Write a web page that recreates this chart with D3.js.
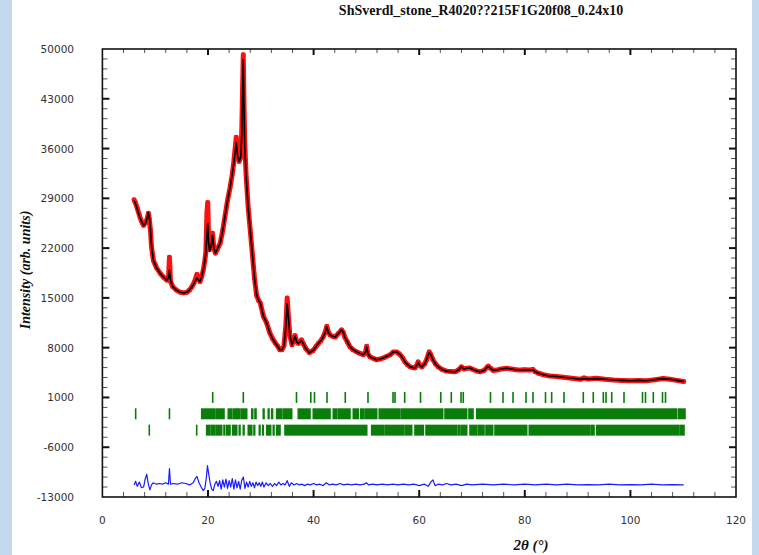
<!DOCTYPE html>
<html><head><meta charset="utf-8">
<script src="https://cdn.jsdelivr.net/npm/d3@7/dist/d3.min.js"></script>
<style>html,body{margin:0;padding:0;background:#fff;}svg{display:block;}</style>
</head><body>
<script>
const chartTitle = "ShSverdl_stone_R4020??215F1G20f08_0.24x10";
const xTicks = [0, 20, 40, 60, 80, 100, 120];
const yTicks = [50000, 43000, 36000, 29000, 22000, 15000, 8000, 1000, -6000, -13000];

// 2theta grid with observed and calculated intensities
const twoTheta = [6.0,6.3,6.6,7.1,7.5,7.8,8.2,8.5,8.7,8.9,9.1,9.3,9.65,10.2,10.9,11.6,12.2,12.5,12.7,12.9,13.3,14.0,14.7,15.4,16.0,16.5,16.9,17.4,17.9,18.2,18.5,18.8,19.1,19.4,19.6,19.8,19.95,20.1,20.3,20.6,20.85,21.1,21.4,21.8,22.3,22.8,23.2,23.7,24.2,24.6,24.9,25.2,25.35,25.6,25.9,26.2,26.4,26.55,26.68,26.8,26.95,27.2,27.6,28.0,28.4,28.8,29.2,29.6,29.9,30.5,31.1,31.7,32.2,32.7,33.2,33.6,34.0,34.4,34.75,35.0,35.25,35.5,35.9,36.5,36.8,37.1,37.7,38.1,38.5,39.2,39.9,40.5,40.9,41.4,41.8,42.2,42.5,42.8,43.1,43.6,44.1,44.7,45.3,45.6,45.9,46.4,46.9,47.5,48.2,48.8,49.4,49.8,50.05,50.3,50.7,51.3,51.9,52.6,53.2,53.9,54.5,55.1,55.7,56.1,56.4,56.9,57.3,57.8,58.3,58.8,59.2,59.6,59.8,60.1,60.5,61.0,61.4,61.7,61.9,62.2,62.6,63.1,63.6,64.4,65.2,66.0,66.8,67.5,68.0,68.5,69.0,69.6,70.3,71.0,71.5,72.3,72.8,73.1,73.5,74.0,74.7,75.5,76.6,77.5,78.3,79.1,80.0,81.0,81.5,82.0,82.6,83.5,84.8,86.0,87.3,88.9,90.5,91.2,92.0,93.6,95.2,96.8,98.3,99.9,101.5,103.1,104.7,106.2,107.5,108.8,110.1];
const yObs = [28800,28300,27600,26400,25600,25200,25600,26200,26900,26000,24500,22200,20300,19300,18500,17900,17500,17600,20700,17300,16600,16100,15800,15700,15800,16100,16500,17200,18300,17600,17300,18000,18900,20200,21500,27000,28400,24000,21800,22500,24100,22000,21300,21900,22700,24500,26400,28700,30600,32400,34200,36500,37600,35000,34200,34800,38500,44500,49200,43000,37000,32500,27800,24500,21200,17800,15400,14600,14300,12400,11500,10100,9300,8700,8200,7700,7700,8300,11200,15000,12200,9800,8400,9700,8800,8600,9100,8500,7900,7300,7600,8200,8600,9000,9500,10200,11000,10200,9800,9600,9500,10000,10500,10200,9500,8800,8100,7700,7400,7200,7000,7300,8200,7100,6700,6500,6300,6400,6550,6800,7000,7400,7400,7200,7000,6500,6000,5600,5300,5200,5150,5600,6000,5500,5300,5700,6300,7000,7400,7000,6300,5700,5300,4900,4700,4650,4600,4900,5300,5000,5100,5150,4900,4700,4600,4800,5200,5400,5100,4800,4850,5000,5100,5000,4900,4850,4900,4850,4950,4600,4400,4200,4000,3950,3850,3700,3550,3750,3600,3700,3550,3450,3400,3350,3400,3350,3500,3650,3550,3400,3250];
const yCalc = [28700,28200,27500,26300,25600,25200,25500,26300,27000,26200,24600,22300,20300,19300,18500,17900,17500,17800,18900,17500,16600,16100,15800,15700,15800,16100,16500,17100,17800,17500,17300,18000,18900,20200,21400,24000,25500,22800,21600,22300,23800,22000,21300,21900,22700,24500,26400,28700,30600,32400,34000,35800,36800,35000,34200,34800,38000,43500,48500,42500,36500,32300,27800,24500,21200,17800,15400,14600,14300,12400,11500,10100,9300,8700,8200,7700,7700,8300,11000,14200,12000,9800,8400,9600,8800,8600,9000,8500,7900,7300,7600,8200,8600,9000,9500,10100,10900,10100,9800,9600,9500,10000,10500,10200,9500,8800,8100,7700,7400,7200,7000,7300,8100,7100,6700,6500,6300,6400,6550,6800,7000,7400,7400,7200,7000,6500,6000,5600,5300,5200,5150,5600,5900,5500,5300,5700,6300,7000,7300,7000,6300,5700,5300,4900,4700,4650,4600,4900,5300,5000,5100,5150,4900,4700,4600,4800,5200,5350,5100,4800,4850,5000,5100,5000,4900,4850,4900,4850,4900,4600,4400,4200,4000,3950,3850,3700,3550,3650,3600,3650,3550,3450,3400,3350,3400,3350,3500,3650,3550,3400,3250];

// difference curve (Yobs - Ycalc, shifted)
const diffTheta = [6.0,6.3,6.6,7.0,7.4,7.8,8.1,8.4,8.7,9.0,9.3,9.6,10.2,10.8,11.4,12.0,12.5,12.7,12.9,13.5,14.2,15.0,15.8,16.5,17.2,17.6,17.9,18.3,18.7,19.1,19.4,19.7,19.9,20.1,20.4,20.7,21.0,21.3,21.6,21.9,22.2,22.5,22.8,23.1,23.4,23.7,24.0,24.3,24.6,24.9,25.2,25.5,25.8,26.1,26.4,26.7,27.0,27.3,27.6,27.9,28.2,28.5,28.8,29.1,29.4,29.7,30.0,30.3,30.6,31.0,31.4,31.8,32.2,32.6,33.0,33.4,33.8,34.2,34.6,35.0,35.4,35.8,36.3,36.8,37.3,37.8,38.3,38.8,39.4,40.0,40.6,41.2,41.8,42.4,43.0,43.6,44.3,45.0,45.7,46.4,47.2,48.0,48.8,49.6,50.0,50.4,51.2,52.0,53.0,54.0,55.0,56.0,57.0,58.0,59.0,60.0,61.0,61.7,62.3,62.6,63.0,63.6,64.4,65.2,66.0,67.0,68.0,69.0,70.0,72.0,74.0,76.0,78.0,80.0,82.0,84.0,86.0,88.0,90.0,92.0,94.0,96.0,98.0,100.0,102.0,104.0,106.0,108.0,110.1];
const diffVal = [-11300,-10800,-11500,-10900,-11700,-11600,-10500,-9800,-11200,-12000,-11300,-11000,-11200,-11100,-11200,-11000,-11200,-9000,-11200,-11100,-11200,-11000,-11100,-11300,-11000,-10400,-10100,-11000,-11600,-12100,-11800,-10200,-8600,-9600,-11000,-11900,-12100,-11200,-10800,-11500,-10700,-11900,-10600,-11600,-10500,-11800,-10700,-11600,-10400,-11900,-10600,-11700,-10800,-11900,-10600,-10200,-11800,-10900,-11600,-10800,-11500,-11000,-11700,-10900,-11400,-11000,-11500,-10900,-11600,-11000,-11400,-11100,-11500,-11100,-11400,-10900,-11300,-11100,-11300,-10700,-11500,-11000,-11300,-11100,-11300,-11200,-11400,-11200,-11300,-11100,-11300,-11200,-11400,-11000,-11300,-11200,-11300,-11100,-11300,-11200,-11300,-11200,-11300,-11200,-11000,-11300,-11200,-11300,-11200,-11300,-11200,-11300,-11200,-11300,-11200,-11400,-11200,-11500,-10800,-10600,-11400,-11200,-11300,-11100,-11300,-11200,-11400,-11200,-11300,-11200,-11300,-11200,-11300,-11200,-11300,-11200,-11300,-11200,-11300,-11250,-11300,-11200,-11300,-11250,-11300,-11200,-11300,-11250,-11300];

// Bragg reflection markers: phase 1 (individual ticks)
const phase1Ticks = [20.89,26.69,36.76,39.47,40.17,42.54,46.0,50.3,55.04,55.42,57.25,60.25,64.09,66.08,67.92,68.35,73.5,75.87,77.77,80.23,81.55,83.92,85.09,87.42,91.08,92.97,94.87,95.38,96.46,98.79,102.29,102.86,104.34,106.08,106.65];
// phase 2: isolated ticks + dense bands [start, end]
const phase2Ticks = [6.3, 12.7];
const phase2Bands = [[18.81,21.33],[21.65,23.03],[23.84,24.49],[24.79,25.44],[25.55,26.06],[26.38,27.33],[28.28,28.47],[28.9,29.09],[30.47,30.61],[31.42,31.55],[32.06,32.22],[33.01,33.96],[34.26,35.85],[37.1,39.32],[39.94,43.11],[43.73,44.38],[44.68,46.89],[47.52,48.47],[48.92,49.41],[49.73,51.95],[52.44,56.36],[56.69,64.45],[64.89,68.99],[69.43,70.19],[70.89,108.77],[109.15,110.34]];
// phase 3
const phase3Ticks = [8.88, 17.86];
const phase3Bands = [[19.75,20.38],[20.7,21.33],[21.65,22.59],[23.03,23.16],[23.54,24.17],[24.68,25.44],[25.93,26.06],[26.69,26.82],[27.63,28.28],[28.71,28.84],[29.72,29.85],[30.36,30.47],[31.12,31.87],[32.37,32.5],[33.01,33.64],[34.58,50.06],[51.0,53.2],[53.52,56.99],[57.31,58.58],[59.2,60.78],[61.29,67.1],[67.4,67.73],[68.05,69.0],[69.62,70.89],[71.19,72.27],[72.65,73.92],[74.36,80.36],[80.85,92.35],[92.67,93.11],[93.62,109.07],[109.39,110.15]];
const phaseLevels = [1000, -1300, -3600];

const W = 759, H = 555;
const svg = d3.select("body").append("svg").attr("width", W).attr("height", H);

// light blue side strips
svg.append("rect").attr("x", 0).attr("y", 0).attr("width", 12).attr("height", H).attr("fill", "#c5d9ee");
svg.append("rect").attr("x", 752).attr("y", 0).attr("width", 7).attr("height", H).attr("fill", "#c5d9ee");

const x = d3.scaleLinear().domain([0, 120]).range([102.4, 736]);
const y = d3.scaleLinear().domain([-13000, 50000]).range([497, 49]);

// title
svg.append("text").attr("x", 481).attr("y", 15).attr("text-anchor", "middle")
  .attr("font-family", "Liberation Serif").attr("font-weight", "bold").attr("font-size", 14)
  .attr("fill", "#111").text(chartTitle);

// tick marks (inward) for all four sides
const g = svg.append("g");
const xMinor = d3.range(0, 121, 4).filter(v => v % 20 !== 0);
const yMinor = d3.range(-13000, 50001, 1400).filter(v => (v + 13000) % 7000 !== 0);
function drawTicks(vals, major) {
  const len = major ? 7 : 5, sw = major ? 2 : 1, col = major ? "#111" : "#555";
  return { len, sw, col };
}
// bottom & top
[[xMinor, false], [xTicks, true]].forEach(([vals, major]) => {
  const s = drawTicks(vals, major);
  g.selectAll(null).data(vals.filter(v => v > 0 && v < 120)).enter().append("line")
    .attr("x1", d => x(d)).attr("x2", d => x(d)).attr("y1", 497).attr("y2", 497 - s.len)
    .attr("stroke", s.col).attr("stroke-width", s.sw);
  g.selectAll(null).data(vals.filter(v => v > 0 && v < 120)).enter().append("line")
    .attr("x1", d => x(d)).attr("x2", d => x(d)).attr("y1", 49).attr("y2", 49 + s.len - 1)
    .attr("stroke", s.col).attr("stroke-width", s.sw);
});
[[yMinor, false], [yTicks, true]].forEach(([vals, major]) => {
  const s = drawTicks(vals, major);
  const inner = vals.filter(v => v > -13000 && v < 50000);
  g.selectAll(null).data(inner).enter().append("line")
    .attr("x1", 102.4).attr("x2", 102.4 + s.len).attr("y1", d => y(d)).attr("y2", d => y(d))
    .attr("stroke", s.col).attr("stroke-width", s.sw);
  g.selectAll(null).data(inner).enter().append("line")
    .attr("x1", 736).attr("x2", 736 - s.len).attr("y1", d => y(d)).attr("y2", d => y(d))
    .attr("stroke", s.col).attr("stroke-width", s.sw);
});

// frame
svg.append("rect").attr("x", x(0)).attr("y", y(50000)).attr("width", x(120) - x(0)).attr("height", y(-13000) - y(50000))
  .attr("fill", "none").attr("stroke", "#111").attr("stroke-width", 1.6);

// tick labels
svg.selectAll(".yl").data(yTicks).enter().append("text")
  .attr("x", 74).attr("y", d => y(d) + 1).attr("text-anchor", "end").attr("dominant-baseline", "middle")
  .attr("font-family", "DejaVu Sans").attr("font-size", 10.5).attr("fill", "#333").text(d => d);
svg.selectAll(".xl").data(xTicks).enter().append("text")
  .attr("x", d => x(d)).attr("y", 524).attr("text-anchor", "middle")
  .attr("font-family", "DejaVu Sans").attr("font-size", 10.5).attr("fill", "#333").text(d => d);

// axis titles
svg.append("text").attr("transform", "translate(30,270) rotate(-90)").attr("text-anchor", "middle")
  .attr("font-family", "Liberation Serif").attr("font-style", "italic").attr("font-weight", "bold")
  .attr("font-size", 14).attr("fill", "#111").text("Intensity (arb. units)");
svg.append("text").attr("x", 531).attr("y", 550).attr("text-anchor", "middle")
  .attr("font-family", "Liberation Serif").attr("font-style", "italic").attr("font-weight", "bold")
  .attr("font-size", 15).attr("fill", "#111").text("2θ (°)");

// Bragg markers
const green = "#0a7d0a";
const markH = 5.5;
const tickRows = [[phase1Ticks, []], [phase2Ticks, phase2Bands], [phase3Ticks, phase3Bands]];
tickRows.forEach(([ticks, bands], i) => {
  const cy = y(phaseLevels[i]);
  svg.selectAll(null).data(ticks).enter().append("rect")
    .attr("x", d => x(d) - 0.8).attr("width", 1.6).attr("y", cy - markH).attr("height", markH * 2).attr("fill", green);
  svg.selectAll(null).data(bands).enter().append("rect")
    .attr("x", d => x(d[0]) - 0.8).attr("width", d => x(d[1]) - x(d[0]) + 1.6)
    .attr("y", cy - markH).attr("height", markH * 2).attr("fill", green);
});

// observed (red), calculated (black), difference (blue)
const obs = twoTheta.map((t, i) => [t, yObs[i]]);
const calc = twoTheta.map((t, i) => [t, yCalc[i]]);
const diff = diffTheta.map((t, i) => [t, diffVal[i]]);
const line = d3.line().x(d => x(d[0])).y(d => y(d[1]));

svg.append("path").datum(obs).attr("d", line).attr("fill", "none").attr("stroke", "#ff1010")
  .attr("stroke-width", 5).attr("stroke-linejoin", "round").attr("stroke-linecap", "round");
svg.selectAll(".obs").data(obs).enter().append("rect")
  .attr("x", d => x(d[0]) - 2).attr("y", d => y(d[1]) - 2).attr("width", 4).attr("height", 4).attr("fill", "#ff1010");
svg.append("path").datum(calc).attr("d", line).attr("fill", "none").attr("stroke", "#000")
  .attr("stroke-width", 1.6).attr("stroke-linejoin", "round");
svg.append("path").datum(diff).attr("d", line).attr("fill", "none").attr("stroke", "#1a1aff")
  .attr("stroke-width", 1.2).attr("stroke-linejoin", "round");
</script>
</body></html>
